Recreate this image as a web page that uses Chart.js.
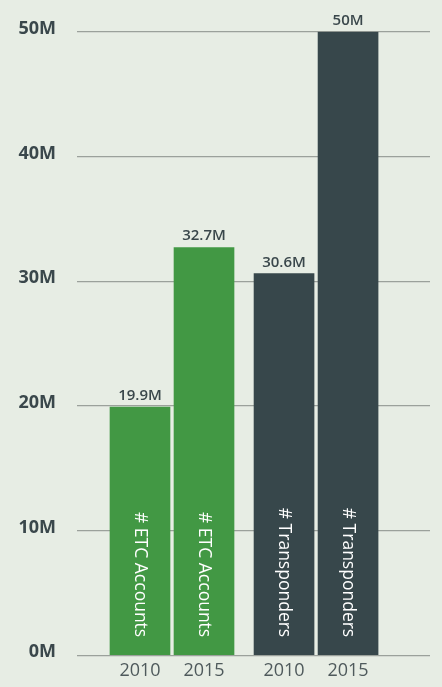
<!DOCTYPE html>
<html>
<head>
<meta charset="utf-8">
<script src="https://cdn.jsdelivr.net/npm/chart.js@4/dist/chart.umd.min.js"></script>
<style>
  body { margin: 0; background: #e7ede4; }
  #wrap { width: 442px; height: 687px; }
</style>
</head>
<body>
<div id="wrap"><canvas id="bars" width="442" height="687"></canvas></div>
<script>
// values in millions
const years = ['2010', '2015', '2010', '2015']
const series = ['# ETC Accounts', '# ETC Accounts', '# Transponders', '# Transponders']
const values = [19.9, 32.7, 30.6, 50]
const valueLabels = ['19.9M', '32.7M', '30.6M', '50M']
const yTickLabels = ['0M', '10M', '20M', '30M', '40M', '50M']

const seriesColors = { '# ETC Accounts': '#429844', '# Transponders': '#37474b' }
const textColor = '#3a474b'
const fontName = '"Open Sans", sans-serif'

// slot positions: second group shifted a bit to leave a gap
const slots = values.map((v, i) => i + (i >= 2 ? 0.25 : 0))

const barText = {
  id: 'barText',
  afterDatasetsDraw(chart) {
    const ctx = chart.ctx
    const meta = chart.getDatasetMeta(0)
    const bottom = chart.scales.y.getPixelForValue(0)
    meta.data.forEach((bar, i) => {
      ctx.save()
      ctx.fillStyle = textColor
      ctx.font = '600 15px ' + fontName
      ctx.textAlign = 'center'
      ctx.textBaseline = 'alphabetic'
      ctx.fillText(valueLabels[i], bar.x, bar.y - 7)

      ctx.translate(bar.x, bottom - 18)
      ctx.rotate(Math.PI / 2)
      ctx.fillStyle = '#ffffff'
      ctx.font = '17.5px ' + fontName
      ctx.textAlign = 'right'
      ctx.textBaseline = 'middle'
      ctx.fillText(series[i], 0, 0)
      ctx.restore()
    })
  }
}

let chart = new Chart(document.getElementById('bars'), {
  type: 'bar',
  data: {
    datasets: [{
      data: values.map((v, i) => ({ x: slots[i], y: v })),
      backgroundColor: series.map(s => seriesColors[s]),
      barThickness: 60,
      borderWidth: 0
    }]
  },
  options: {
    responsive: false,
    animation: false,
    layout: { padding: { left: 0, right: 12, top: 30, bottom: 2 } },
    plugins: { legend: { display: false }, tooltip: { enabled: false } },
    scales: {
      x: {
        type: 'linear',
        offset: false,
        min: -0.984,
        max: 4.53,
        grid: { display: false, offset: false },
        border: { display: false },
        afterBuildTicks: (scale) => { scale.ticks = slots.map(s => ({ value: s })) },
        ticks: {
          autoSkip: false,
          maxRotation: 0,
          padding: -3,
          color: '#4f5a5c',
          font: { family: fontName, size: 18 },
          callback: (v, i) => years[i]
        }
      },
      y: {
        min: 0,
        max: 50,
        afterFit: (scale) => { scale.width = 77 },
        ticks: {
          stepSize: 10,
          padding: 21,
          labelOffset: -3,
          color: textColor,
          font: { family: fontName, size: 18, weight: 'bold' },
          callback: (v) => yTickLabels[v / 10]
        },
        grid: { color: '#9ba19b', lineWidth: 1.2, drawTicks: false },
        border: { display: false }
      }
    }
  },
  plugins: [barText]
})
</script>
</body>
</html>
